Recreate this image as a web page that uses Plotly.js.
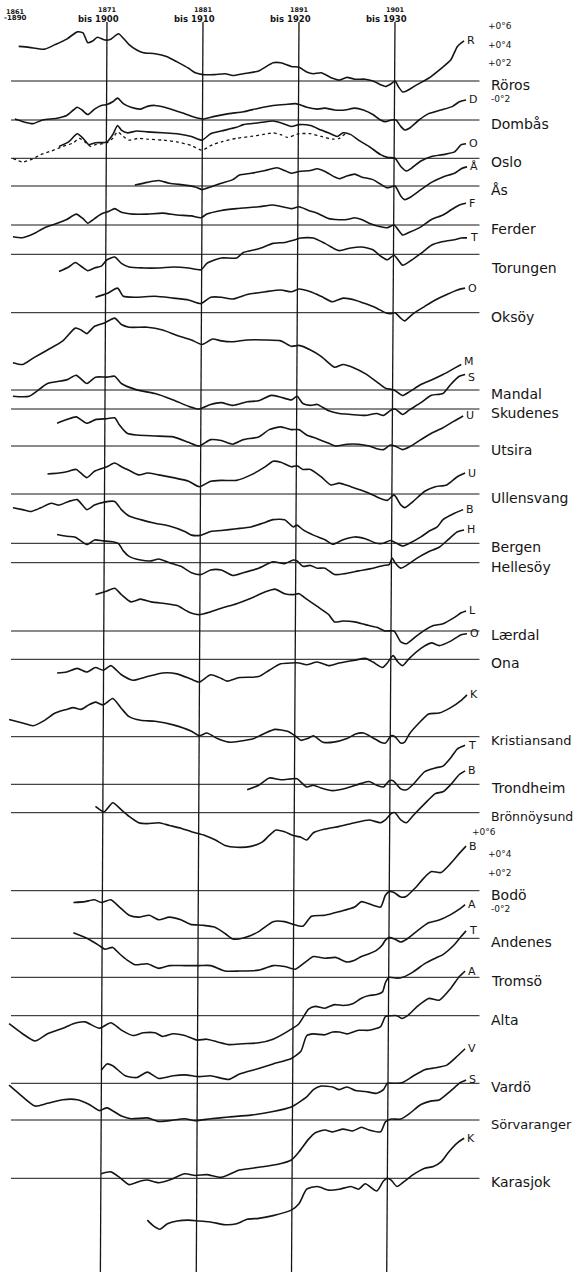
<!DOCTYPE html>
<html>
<head>
<meta charset="utf-8">
<script src="https://cdn.plot.ly/plotly-3.0.1.min.js"></script>
<style>
  html, body { margin: 0; padding: 0; background: #fff; }
  #chart { width: 579px; height: 1272px; }
</style>
</head>
<body>
<div id="chart"></div>
<script>
// 30-year running means of temperature, deviation (°C) from 1901–1930,
// plotted against the first year of each 30-year period.

const stationNames = ["Röros","Dombås","Oslo","Ås","Ferder","Torungen","Oksöy","Mandal","Skudenes","Utsira","Ullensvang","Bergen","Hellesöy","Lærdal","Ona","Kristiansand","Trondheim","Brönnöysund","Bodö","Andenes","Tromsö","Alta","Vardö","Sörvaranger","Karasjok"];
const curveLetters = ["R","D","O","Å","F","T","O","M","S","U","U","B","H","L","O","K","T","B","B","A","T","A","V","S","K"];

const periodStart = [1861, 1871, 1881, 1891, 1901];
const periodEnd   = [1890, 1900, 1910, 1920, 1930];
const scaleTicks  = [0.6, 0.4, 0.2, -0.2];

const yr_roros  = [1861.8,1862.9,1864.5,1865.6,1866.8,1867.9,1868.5,1869.0,1869.5,1870.0,1870.8,1871.4,1872.2,1872.7,1873.3,1874.1,1874.8,1876.0,1877.2,1878.3,1879.5,1880.2,1881.0,1882.2,1883.3,1884.1,1885.2,1886.8,1888.3,1889.1,1890.2,1891.0,1891.8,1892.5,1893.3,1894.5,1895.2,1896.0,1896.8,1897.9,1898.7,1899.5,1900.0,1900.6,1901.0,1901.4,1901.8,1902.2,1903.3,1904.5,1905.6,1906.8,1907.5,1908.2];
const dev_roros = [0.38,0.37,0.35,0.40,0.46,0.54,0.53,0.42,0.44,0.48,0.45,0.46,0.52,0.47,0.40,0.34,0.31,0.30,0.27,0.21,0.14,0.09,0.07,0.07,0.08,0.06,0.08,0.11,0.20,0.20,0.16,0.15,0.10,0.08,0.09,0.03,0.01,0.04,0.02,0.02,0.00,-0.04,-0.06,-0.03,0.00,-0.07,-0.12,-0.11,-0.04,0.03,0.12,0.23,0.38,0.44];

const yr_dombas  = [1861.4,1862.3,1863.3,1864.3,1865.8,1866.8,1867.5,1867.9,1868.4,1869.0,1869.7,1870.4,1871.0,1871.6,1872.1,1872.7,1873.5,1874.5,1875.2,1876.0,1877.0,1877.9,1879.1,1879.8,1881.0,1882.2,1883.7,1885.2,1886.8,1888.3,1889.5,1890.6,1891.0,1891.8,1892.9,1893.7,1894.7,1895.8,1896.8,1897.7,1898.7,1899.5,1900.0,1900.6,1901.1,1901.6,1902.0,1902.5,1903.5,1904.5,1905.8,1907.0,1907.7,1908.4];
const dev_dombas = [0.01,-0.02,-0.04,0.00,0.02,0.05,0.11,0.14,0.11,0.06,0.12,0.16,0.17,0.20,0.24,0.18,0.14,0.12,0.15,0.16,0.14,0.11,0.07,0.04,0.01,0.04,0.07,0.09,0.13,0.16,0.17,0.18,0.17,0.14,0.12,0.13,0.11,0.11,0.13,0.11,0.06,0.00,-0.02,0.00,0.00,-0.07,-0.11,-0.09,0.00,0.07,0.11,0.15,0.20,0.22];

const yr_oslo  = [1866.0,1867.0,1867.9,1868.5,1869.1,1869.8,1871.0,1871.6,1872.1,1872.5,1873.1,1874.1,1875.2,1876.8,1878.3,1879.8,1880.9,1881.8,1882.9,1884.5,1885.2,1886.8,1888.3,1889.1,1890.2,1891.0,1892.2,1893.3,1894.5,1895.0,1895.6,1896.4,1897.2,1898.3,1899.5,1900.2,1901.0,1901.6,1902.2,1902.7,1903.7,1904.8,1906.0,1907.2,1907.9,1908.4];
const dev_oslo = [0.13,0.18,0.27,0.22,0.15,0.17,0.18,0.26,0.36,0.31,0.28,0.30,0.29,0.28,0.27,0.24,0.20,0.27,0.30,0.34,0.37,0.39,0.41,0.39,0.35,0.37,0.36,0.31,0.26,0.24,0.28,0.26,0.20,0.13,0.04,0.01,0.00,-0.09,-0.14,-0.11,-0.03,0.02,0.04,0.07,0.15,0.16];

// second Oslo series (dotted)
const yr_osloDot  = [1861.2,1862.2,1863.2,1864.1,1865.2,1866.4,1867.5,1868.1,1868.7,1869.3,1869.8,1871.0,1871.6,1872.1,1872.7,1873.3,1874.3,1875.2,1876.8,1878.3,1879.8,1880.9,1882.0,1882.9,1884.5,1886.0,1887.2,1888.3,1889.1,1889.8,1891.0,1892.2,1893.3,1894.5,1895.2,1895.8];
const dev_osloDot = [0.00,-0.04,-0.01,0.04,0.08,0.13,0.17,0.22,0.18,0.13,0.15,0.17,0.22,0.29,0.24,0.20,0.22,0.21,0.20,0.18,0.14,0.09,0.15,0.18,0.22,0.24,0.26,0.28,0.26,0.23,0.27,0.27,0.24,0.21,0.22,0.27];

const yr_as  = [1873.9,1875.2,1876.4,1877.5,1879.1,1880.2,1880.9,1881.8,1882.9,1884.1,1884.8,1886.0,1887.5,1888.7,1889.5,1890.2,1891.0,1892.2,1892.9,1893.7,1894.7,1895.2,1896.0,1896.8,1897.5,1898.7,1899.5,1900.2,1901.0,1901.6,1902.0,1902.5,1903.7,1904.8,1906.0,1907.2,1907.9,1908.5];
const dev_as = [0.01,0.04,0.06,0.03,0.01,-0.01,-0.04,-0.01,0.03,0.07,0.12,0.14,0.17,0.20,0.17,0.14,0.16,0.17,0.19,0.16,0.10,0.08,0.11,0.13,0.10,0.07,0.02,-0.02,0.00,-0.11,-0.15,-0.13,-0.04,0.04,0.10,0.14,0.19,0.21];

const yr_ferder  = [1861.2,1862.2,1863.3,1864.5,1865.6,1866.8,1867.8,1868.5,1869.0,1869.7,1870.4,1871.2,1871.8,1872.5,1873.7,1875.2,1876.8,1878.3,1879.8,1880.8,1881.4,1882.9,1884.5,1886.8,1888.3,1890.2,1891.0,1892.0,1892.9,1894.1,1894.8,1896.0,1896.8,1897.5,1898.3,1899.5,1900.2,1900.9,1901.8,1902.5,1903.7,1904.8,1906.0,1906.9,1907.7,1908.4];
const dev_ferder = [-0.13,-0.14,-0.10,-0.03,0.01,0.06,0.12,0.07,0.02,0.07,0.12,0.15,0.18,0.14,0.12,0.12,0.13,0.11,0.10,0.08,0.12,0.16,0.18,0.20,0.22,0.18,0.20,0.16,0.13,0.07,0.06,0.06,0.08,0.06,0.02,-0.02,-0.03,0.00,-0.11,-0.08,-0.02,0.06,0.11,0.17,0.22,0.24];

const yr_torungen  = [1866.0,1867.0,1867.7,1868.4,1869.0,1869.7,1870.4,1871.0,1871.8,1872.5,1873.3,1874.8,1876.4,1877.9,1879.5,1880.8,1881.4,1882.9,1884.5,1885.2,1886.8,1888.3,1889.5,1890.6,1891.2,1892.5,1893.7,1894.7,1895.2,1896.4,1897.5,1898.7,1899.5,1900.2,1900.9,1901.8,1902.5,1903.7,1904.8,1906.0,1907.2,1907.9,1908.5];
const dev_torungen = [-0.19,-0.14,-0.09,-0.14,-0.18,-0.15,-0.13,-0.06,-0.03,-0.10,-0.14,-0.15,-0.15,-0.14,-0.15,-0.17,-0.10,-0.04,-0.04,0.02,0.06,0.12,0.13,0.16,0.18,0.18,0.12,0.06,0.04,0.07,0.08,0.05,-0.02,-0.06,-0.01,-0.12,-0.08,0.01,0.10,0.14,0.16,0.18,0.18];

const yr_oksoy  = [1869.8,1871.0,1872.1,1872.7,1874.1,1876.0,1877.9,1879.5,1880.8,1881.8,1882.9,1884.1,1885.6,1887.5,1889.1,1890.2,1891.0,1892.2,1893.3,1894.5,1895.6,1896.8,1897.9,1899.1,1900.0,1900.6,1901.0,1901.6,1902.0,1902.9,1904.1,1905.2,1906.4,1907.5,1908.3];
const dev_oksoy = [0.17,0.21,0.27,0.18,0.17,0.18,0.16,0.14,0.10,0.17,0.17,0.15,0.20,0.23,0.25,0.23,0.26,0.23,0.18,0.12,0.16,0.14,0.10,0.05,0.00,-0.01,0.00,-0.06,-0.09,-0.01,0.07,0.14,0.20,0.25,0.27];

const yr_mandal  = [1861.2,1862.2,1863.3,1864.8,1866.4,1867.7,1868.3,1868.9,1869.7,1870.8,1871.8,1872.5,1873.3,1875.2,1876.8,1878.3,1879.8,1880.9,1882.0,1882.9,1884.1,1885.6,1887.5,1889.1,1890.2,1891.0,1892.2,1893.3,1894.7,1895.6,1896.8,1897.9,1899.1,1900.0,1900.9,1901.8,1902.5,1903.7,1904.8,1906.0,1907.2,1907.9];
const dev_mandal = [0.30,0.28,0.35,0.44,0.54,0.68,0.66,0.62,0.70,0.74,0.79,0.72,0.69,0.69,0.66,0.60,0.55,0.50,0.56,0.54,0.53,0.55,0.55,0.54,0.48,0.49,0.44,0.37,0.25,0.28,0.24,0.18,0.09,0.02,0.00,-0.06,-0.02,0.06,0.11,0.17,0.24,0.28];

const yr_skudenes  = [1861.2,1862.9,1864.8,1866.8,1867.8,1868.9,1869.8,1871.0,1871.8,1872.5,1874.1,1876.0,1877.9,1879.5,1880.6,1881.8,1882.9,1884.1,1885.6,1886.8,1888.1,1889.1,1890.2,1890.8,1891.4,1892.2,1892.9,1894.1,1895.2,1896.4,1897.9,1899.1,1899.8,1900.6,1901.0,1901.8,1902.5,1903.7,1904.8,1906.0,1906.8,1907.7,1908.3];
const dev_skudenes = [0.14,0.14,0.28,0.32,0.37,0.28,0.35,0.35,0.36,0.28,0.21,0.17,0.10,0.03,0.00,0.05,0.07,0.04,0.08,0.09,0.15,0.13,0.10,0.14,0.06,0.04,0.05,-0.02,-0.05,-0.06,-0.07,-0.05,-0.07,-0.01,0.00,-0.06,-0.01,0.07,0.15,0.17,0.27,0.36,0.38];

const yr_utsira  = [1865.8,1866.8,1867.8,1868.9,1869.8,1871.0,1871.8,1872.3,1873.1,1874.1,1876.0,1877.9,1879.5,1880.6,1881.8,1882.9,1884.1,1885.2,1886.8,1887.9,1889.1,1890.2,1891.0,1891.8,1892.9,1894.1,1894.8,1896.0,1897.2,1898.3,1899.1,1899.8,1900.5,1901.0,1901.8,1902.5,1903.7,1904.8,1906.0,1907.1,1908.1];
const dev_utsira = [0.25,0.29,0.32,0.25,0.29,0.30,0.31,0.23,0.14,0.12,0.11,0.10,0.04,0.00,0.07,0.06,0.02,0.07,0.10,0.18,0.21,0.18,0.18,0.12,0.08,0.03,0.00,0.02,0.02,0.00,-0.03,-0.04,0.01,0.00,-0.04,-0.01,0.07,0.14,0.20,0.27,0.33];

const yr_ullensvang  = [1864.8,1866.0,1867.0,1867.8,1868.9,1869.7,1871.0,1871.8,1872.5,1873.3,1874.3,1875.2,1876.4,1877.9,1879.5,1880.6,1881.8,1882.9,1884.5,1886.0,1887.5,1888.3,1889.1,1890.2,1890.8,1891.4,1892.2,1893.3,1894.3,1895.2,1896.4,1897.5,1898.7,1899.5,1900.2,1900.9,1901.6,1902.0,1902.9,1904.1,1905.2,1906.4,1907.5,1908.3];
const dev_ullensvang = [0.22,0.23,0.25,0.27,0.18,0.25,0.30,0.34,0.30,0.26,0.21,0.23,0.21,0.18,0.14,0.08,0.14,0.15,0.15,0.21,0.30,0.36,0.35,0.30,0.31,0.27,0.27,0.19,0.10,0.12,0.08,0.04,-0.01,-0.05,-0.07,-0.01,-0.12,-0.15,-0.08,0.03,0.08,0.10,0.19,0.23];

const yr_bergen  = [1861.2,1862.2,1863.1,1864.1,1865.2,1866.0,1867.0,1867.9,1868.9,1869.7,1870.6,1871.8,1872.5,1873.3,1874.5,1876.0,1877.5,1879.1,1879.8,1880.8,1881.8,1882.9,1884.5,1886.0,1887.2,1888.3,1889.5,1890.4,1890.8,1891.4,1892.5,1893.7,1894.5,1895.6,1896.8,1897.9,1899.1,1899.8,1900.5,1901.0,1901.8,1902.5,1903.7,1904.5,1905.4,1906.0,1907.2,1908.1];
const dev_bergen = [0.39,0.37,0.35,0.39,0.44,0.42,0.46,0.48,0.37,0.42,0.45,0.46,0.37,0.30,0.26,0.22,0.19,0.13,0.09,0.09,0.13,0.14,0.16,0.18,0.22,0.26,0.26,0.18,0.20,0.15,0.09,0.04,-0.01,0.04,0.07,0.05,0.00,0.00,0.03,0.01,-0.03,0.00,0.07,0.13,0.18,0.26,0.33,0.37];

const yr_hellesoy  = [1865.8,1866.8,1867.7,1868.9,1869.7,1870.6,1871.6,1872.2,1872.7,1873.3,1874.5,1875.6,1876.4,1877.5,1878.7,1879.8,1880.8,1881.8,1882.9,1884.1,1885.2,1886.8,1888.3,1889.5,1890.4,1890.8,1891.4,1892.2,1892.9,1893.7,1894.7,1895.8,1897.2,1898.7,1899.8,1900.4,1900.7,1901.0,1901.6,1902.2,1903.3,1904.5,1905.6,1906.5,1907.5,1908.2];
const dev_hellesoy = [0.31,0.29,0.28,0.20,0.25,0.24,0.23,0.21,0.13,0.07,0.03,0.02,0.04,0.00,-0.04,-0.11,-0.13,-0.08,-0.08,-0.14,-0.11,-0.06,0.01,-0.01,0.03,0.02,-0.04,-0.03,-0.06,-0.06,-0.13,-0.12,-0.09,-0.06,-0.03,-0.02,0.05,0.00,-0.06,-0.03,0.05,0.12,0.17,0.25,0.34,0.36];

const yr_laerdal  = [1869.8,1871.0,1871.8,1872.5,1873.5,1874.5,1875.6,1877.2,1878.3,1879.5,1880.6,1881.8,1882.9,1884.5,1886.0,1887.5,1888.5,1889.5,1890.4,1891.0,1891.8,1892.9,1894.1,1894.7,1895.6,1896.8,1897.9,1899.1,1900.0,1900.9,1901.6,1902.2,1903.3,1904.1,1905.0,1906.0,1907.2,1907.9,1908.4];
const dev_laerdal = [0.40,0.44,0.47,0.40,0.32,0.35,0.32,0.30,0.28,0.21,0.18,0.21,0.25,0.30,0.36,0.43,0.46,0.41,0.40,0.41,0.35,0.27,0.18,0.10,0.11,0.10,0.07,0.04,0.00,0.00,-0.12,-0.14,-0.05,0.01,0.06,0.08,0.15,0.20,0.22];

const yr_ona  = [1865.8,1866.8,1867.9,1868.9,1869.8,1870.6,1871.4,1872.5,1873.7,1875.2,1876.8,1878.3,1879.8,1880.6,1881.8,1882.9,1883.5,1884.8,1886.8,1887.9,1889.1,1890.2,1891.0,1891.8,1892.9,1894.1,1895.2,1896.8,1897.9,1898.7,1899.7,1900.2,1900.8,1901.3,1901.8,1902.5,1903.7,1904.8,1905.6,1906.8,1907.9,1908.5];
const dev_ona = [-0.15,-0.14,-0.10,-0.14,-0.09,-0.12,-0.07,-0.17,-0.23,-0.19,-0.15,-0.16,-0.22,-0.25,-0.17,-0.21,-0.24,-0.20,-0.19,-0.12,-0.05,-0.04,-0.04,-0.06,-0.03,-0.07,-0.04,-0.01,0.01,-0.03,-0.09,-0.04,0.04,-0.03,-0.07,0.01,0.12,0.18,0.15,0.20,0.27,0.28];

const yr_kristiansand  = [1860.8,1862.2,1863.3,1864.5,1865.6,1866.8,1867.5,1868.3,1869.1,1869.8,1870.6,1871.6,1872.5,1873.3,1874.5,1876.0,1877.9,1879.8,1880.6,1881.4,1882.5,1883.7,1884.8,1886.3,1887.5,1888.5,1889.8,1890.6,1891.2,1891.9,1892.5,1893.5,1894.6,1896.0,1896.9,1897.7,1898.5,1899.5,1900.0,1900.6,1901.0,1901.6,1902.0,1902.5,1903.5,1904.5,1905.6,1906.8,1907.9,1908.5];
const dev_kristiansand = [0.19,0.15,0.12,0.18,0.26,0.30,0.32,0.30,0.35,0.38,0.35,0.42,0.31,0.22,0.18,0.17,0.13,0.06,0.01,0.04,-0.02,-0.06,-0.05,-0.02,0.04,0.08,0.06,0.01,-0.04,-0.02,0.01,-0.06,-0.06,-0.02,0.03,0.04,0.00,-0.06,-0.07,0.01,0.00,-0.07,-0.06,0.03,0.15,0.25,0.26,0.32,0.40,0.46];

const yr_trondheim  = [1885.6,1886.8,1887.9,1889.1,1890.2,1890.8,1891.8,1892.5,1893.3,1894.5,1896.0,1897.5,1898.3,1899.1,1899.8,1900.4,1900.8,1901.6,1902.2,1902.9,1904.1,1905.2,1906.0,1906.8,1907.5,1908.3];
const dev_trondheim = [-0.06,-0.01,0.07,0.05,0.06,0.06,-0.03,-0.01,-0.04,-0.07,-0.04,0.01,0.03,-0.01,-0.03,0.04,0.04,-0.05,-0.06,0.00,0.14,0.18,0.20,0.29,0.39,0.43];

const yr_bronnoysund  = [1869.8,1870.7,1871.6,1872.5,1873.3,1874.3,1875.2,1876.4,1877.5,1878.7,1879.8,1881.2,1882.3,1883.3,1884.5,1886.0,1887.2,1887.9,1888.6,1889.5,1890.4,1891.2,1891.8,1892.5,1893.7,1895.2,1896.8,1898.3,1899.5,1900.0,1900.6,1901.0,1901.6,1902.2,1902.9,1904.1,1905.2,1906.0,1906.9,1907.7,1908.3];
const dev_bronnoysund = [0.07,0.01,0.11,0.03,-0.04,-0.11,-0.12,-0.11,-0.14,-0.17,-0.21,-0.25,-0.30,-0.36,-0.38,-0.37,-0.32,-0.25,-0.19,-0.21,-0.25,-0.27,-0.30,-0.22,-0.18,-0.15,-0.11,-0.08,-0.11,-0.08,-0.01,0.00,-0.08,-0.11,-0.03,0.10,0.21,0.23,0.32,0.42,0.46];

const yr_bodo  = [1867.5,1868.7,1869.7,1870.4,1871.4,1872.3,1873.3,1874.3,1875.4,1876.4,1877.5,1878.7,1879.7,1881.0,1882.2,1883.3,1884.1,1885.2,1886.8,1888.3,1889.5,1890.4,1891.4,1892.3,1893.7,1895.2,1896.8,1897.5,1898.7,1899.5,1900.0,1900.4,1900.9,1901.6,1902.2,1903.1,1904.1,1904.8,1905.8,1906.8,1907.7,1908.4];
const dev_bodo = [-0.13,-0.12,-0.10,-0.13,-0.10,-0.18,-0.27,-0.29,-0.27,-0.32,-0.29,-0.32,-0.37,-0.38,-0.40,-0.47,-0.53,-0.52,-0.45,-0.34,-0.34,-0.37,-0.39,-0.28,-0.27,-0.23,-0.18,-0.12,-0.16,-0.18,-0.05,-0.01,-0.02,-0.07,-0.06,0.03,0.15,0.21,0.20,0.30,0.41,0.49];

const yr_andenes  = [1867.5,1869.1,1870.2,1870.8,1871.6,1872.3,1873.1,1873.9,1875.2,1876.4,1877.5,1879.1,1880.6,1881.8,1883.3,1884.8,1886.8,1888.3,1889.5,1890.6,1891.8,1892.5,1893.7,1894.8,1896.0,1896.8,1897.5,1898.3,1899.1,1899.7,1900.0,1900.4,1901.0,1901.6,1902.2,1903.3,1904.5,1905.6,1906.8,1907.7,1908.3];
const dev_andenes = [0.06,-0.01,-0.08,-0.12,-0.10,-0.17,-0.24,-0.29,-0.28,-0.33,-0.30,-0.30,-0.30,-0.30,-0.36,-0.36,-0.35,-0.30,-0.31,-0.34,-0.25,-0.20,-0.22,-0.21,-0.26,-0.24,-0.20,-0.17,-0.13,-0.07,-0.02,0.01,-0.01,-0.04,-0.01,0.08,0.17,0.20,0.26,0.32,0.37];

const yr_tromso  = [1860.8,1862.2,1863.5,1864.8,1866.4,1867.5,1868.7,1870.2,1871.4,1872.5,1873.7,1874.8,1876.0,1876.8,1877.9,1879.1,1880.4,1881.4,1882.5,1883.7,1885.2,1886.8,1888.3,1890.2,1891.0,1892.0,1892.7,1893.7,1894.7,1895.6,1896.6,1897.5,1898.3,1899.1,1899.7,1900.0,1900.4,1901.2,1901.8,1902.9,1904.1,1905.2,1906.0,1907.2,1907.9,1908.4];
const dev_tromso = [-0.51,-0.62,-0.70,-0.62,-0.56,-0.51,-0.49,-0.56,-0.50,-0.58,-0.64,-0.61,-0.61,-0.65,-0.62,-0.64,-0.69,-0.68,-0.71,-0.74,-0.73,-0.72,-0.68,-0.57,-0.51,-0.35,-0.32,-0.34,-0.30,-0.31,-0.29,-0.23,-0.20,-0.19,-0.16,-0.06,0.00,-0.01,0.00,0.06,0.15,0.21,0.25,0.36,0.45,0.51];

const yr_alta  = [1870.4,1871.0,1871.6,1872.9,1874.1,1875.2,1876.4,1877.9,1879.1,1880.6,1881.8,1883.7,1884.8,1886.8,1888.3,1890.2,1891.2,1891.8,1892.5,1893.7,1894.5,1895.2,1896.0,1897.2,1898.3,1899.5,1900.0,1900.6,1901.2,1901.7,1902.3,1903.3,1904.5,1905.6,1906.8,1907.7,1908.3];
const dev_alta = [-0.60,-0.53,-0.55,-0.66,-0.68,-0.62,-0.69,-0.66,-0.65,-0.67,-0.66,-0.70,-0.64,-0.58,-0.53,-0.47,-0.39,-0.22,-0.20,-0.21,-0.18,-0.18,-0.20,-0.16,-0.16,-0.12,-0.01,0.00,0.00,-0.03,0.00,0.10,0.19,0.17,0.30,0.43,0.49];

const yr_vardo  = [1860.8,1861.8,1863.5,1864.8,1866.4,1867.9,1869.1,1870.2,1871.0,1872.5,1873.5,1875.2,1876.4,1877.5,1879.1,1880.2,1881.8,1883.7,1886.0,1888.3,1890.2,1891.8,1892.5,1893.3,1894.5,1895.2,1896.0,1896.9,1897.9,1899.1,1899.8,1900.2,1901.0,1901.8,1902.9,1904.1,1905.2,1906.4,1907.5,1908.3];
const dev_vardo = [-0.02,-0.11,-0.25,-0.22,-0.18,-0.18,-0.23,-0.30,-0.27,-0.36,-0.39,-0.38,-0.42,-0.41,-0.39,-0.41,-0.39,-0.37,-0.35,-0.31,-0.26,-0.15,-0.07,-0.03,-0.04,-0.07,-0.04,-0.08,-0.09,-0.11,-0.07,0.00,0.00,0.01,0.08,0.15,0.17,0.20,0.30,0.38];

const yr_sorvaranger  = [1870.4,1871.4,1872.3,1873.3,1874.5,1875.2,1876.4,1877.5,1879.1,1880.2,1881.4,1882.9,1884.8,1886.8,1888.7,1890.2,1891.0,1892.0,1892.7,1893.7,1894.5,1895.6,1896.6,1897.5,1898.3,1899.5,1900.0,1900.6,1901.6,1902.5,1903.7,1904.8,1905.6,1906.8,1907.8,1908.4];
const dev_sorvaranger = [-0.59,-0.57,-0.63,-0.71,-0.67,-0.66,-0.69,-0.66,-0.59,-0.61,-0.60,-0.63,-0.55,-0.52,-0.49,-0.44,-0.35,-0.21,-0.14,-0.11,-0.13,-0.10,-0.12,-0.08,-0.11,-0.13,-0.02,0.01,0.01,0.07,0.17,0.21,0.22,0.32,0.41,0.44];

const yr_karasjok  = [1875.2,1875.8,1876.5,1877.3,1878.3,1879.5,1880.6,1881.8,1883.3,1884.5,1885.6,1886.8,1888.3,1890.2,1891.0,1891.8,1892.9,1894.1,1895.2,1896.4,1897.2,1897.9,1899.1,1899.8,1900.2,1900.6,1901.2,1901.9,1902.9,1904.1,1905.0,1905.8,1906.6,1907.5,1908.2];
const dev_karasjok = [-0.46,-0.52,-0.56,-0.50,-0.47,-0.46,-0.47,-0.48,-0.51,-0.50,-0.45,-0.44,-0.41,-0.35,-0.28,-0.12,-0.09,-0.13,-0.12,-0.09,-0.12,-0.06,-0.14,-0.03,0.00,-0.02,-0.09,-0.04,0.04,0.11,0.13,0.18,0.29,0.39,0.44];

const stationYears = [yr_roros, yr_dombas, yr_oslo, yr_as, yr_ferder, yr_torungen, yr_oksoy, yr_mandal, yr_skudenes, yr_utsira, yr_ullensvang, yr_bergen, yr_hellesoy, yr_laerdal, yr_ona, yr_kristiansand, yr_trondheim, yr_bronnoysund, yr_bodo, yr_andenes, yr_tromso, yr_alta, yr_vardo, yr_sorvaranger, yr_karasjok];
const stationDevs  = [dev_roros, dev_dombas, dev_oslo, dev_as, dev_ferder, dev_torungen, dev_oksoy, dev_mandal, dev_skudenes, dev_utsira, dev_ullensvang, dev_bergen, dev_hellesoy, dev_laerdal, dev_ona, dev_kristiansand, dev_trondheim, dev_bronnoysund, dev_bodo, dev_andenes, dev_tromso, dev_alta, dev_vardo, dev_sorvaranger, dev_karasjok];

// ---- page geometry (layout only) ----
const W = 579, H = 1272;
const pxPerYear = 9.6;          // horizontal scale
const pxPerDeg = 91;            // vertical scale, pixels per °C
const xLeftYear = 1871 - 107 / pxPerYear;
const zeroLinePx = [81,120,158.3,186,225,254.3,312.7,390,409,446,494,543.3,562.7,631,659.3,736.7,784.3,812.7,890.7,938.3,977.3,1015.7,1083.3,1120,1178.3];
const nameShiftPx = stationNames.map(n => n === "Torungen" ? -14 : -4);
const nameSize = stationNames.map(n => n === "Brönnöysund" ? 12.5 : (n === "Kristiansand" || n === "Sörvaranger" ? 13 : 14));
const letterShiftPx = curveLetters.map((c, i) => i === 7 ? 3 : (i === 8 ? -3 : 0));
const lineSlantYears = [-0.69, -0.70, -0.78, -0.86];   // hand-ruled period lines lean slightly left
const scaleRows = ["Röros", "Bodö"];

const ink = "#151515";
const font = "DejaVu Sans, Verdana, sans-serif";

const axisId = i => (i === 0 ? "y" : "y" + (i + 1));
const axisKey = i => (i === 0 ? "yaxis" : "yaxis" + (i + 1));

const traces = [];
const layout = {
  width: W, height: H,
  margin: {l: 0, r: 0, t: 0, b: 0},
  paper_bgcolor: "#fff", plot_bgcolor: "#fff",
  showlegend: false,
  xaxis: {range: [xLeftYear, xLeftYear + W / pxPerYear], visible: false, fixedrange: true},
  shapes: [], annotations: []
};

stationNames.forEach((name, i) => {
  const b = zeroLinePx[i];
  const ax = {range: [-(H - b) / pxPerDeg, b / pxPerDeg], visible: false, fixedrange: true, domain: [0, 1]};
  if (i > 0) ax.overlaying = "y";
  layout[axisKey(i)] = ax;

  const xs = stationYears[i], ys = stationDevs[i];
  traces.push({
    x: xs, y: ys, xaxis: "x", yaxis: axisId(i), mode: "lines", hoverinfo: "skip",
    line: {color: ink, width: 1.6, shape: "spline", smoothing: 0.6}
  });
  if (name === "Oslo") {
    traces.push({
      x: yr_osloDot, y: dev_osloDot, xaxis: "x", yaxis: axisId(i), mode: "lines", hoverinfo: "skip",
      line: {color: ink, width: 1.3, dash: "dot", shape: "spline", smoothing: 0.6}
    });
  }

  // zero line of the station
  layout.shapes.push({type: "line", xref: "x", yref: axisId(i), x0: 1861, x1: 1909.8, y0: 0, y1: 0,
    line: {color: ink, width: 1}});

  // station name
  layout.annotations.push({xref: "paper", yref: axisId(i), x: 489 / W, y: 0, yshift: nameShiftPx[i],
    text: name, showarrow: false, xanchor: "left", yanchor: "middle",
    font: {family: font, size: nameSize[i], color: ink}});

  // letter at the end of the curve
  const k = xs.length - 1;
  layout.annotations.push({xref: "x", yref: axisId(i), x: xs[k], y: ys[k], xshift: 1, yshift: letterShiftPx[i],
    text: curveLetters[i], showarrow: false, xanchor: "left", yanchor: "middle",
    font: {family: font, size: 11, color: ink}});
});

// period lines
periodStart.slice(1).forEach((yr, j) => {
  layout.shapes.push({type: "line", xref: "x", yref: "paper", x0: yr, y0: 1 - 22 / H, x1: yr + lineSlantYears[j], y1: 0,
    line: {color: ink, width: 1.3}});
});

// period headings
periodStart.forEach((yr, j) => {
  const first = j === 0;
  layout.annotations.push({xref: "x", yref: "paper", x: yr, y: 1 - (first ? 12 : 10) / H,
    text: String(yr), showarrow: false, xanchor: "center", yanchor: "middle", xshift: first ? 4 : 0,
    font: {family: font, size: 6.5, color: ink, weight: 700}});
  layout.annotations.push({xref: "x", yref: "paper", x: yr, y: 1 - (first ? 18 : 19) / H,
    text: (first ? "-" : "bis ") + periodEnd[j], showarrow: false, xanchor: "center", yanchor: "middle",
    xshift: first ? 4 : -9,
    font: {family: font, size: first ? 7 : 8.5, color: ink, weight: 700}});
});

// vertical scale marks beside two stations
scaleRows.forEach(nm => {
  const i = stationNames.indexOf(nm);
  scaleTicks.forEach(v => {
    const txt = (v > 0 ? "+" : "-") + "0°" + Math.round(Math.abs(v) * 10);
    const lifted = nm === "Bodö" && v === 0.6;
    layout.annotations.push({xref: "paper", yref: axisId(i), x: (lifted ? 470 : (v < 0 ? 489 : 486)) / W, y: v,
      yshift: lifted ? 4 : 0,
      text: txt, showarrow: false, xanchor: "left", yanchor: "middle",
      font: {family: font, size: 9, color: ink}});
  });
});

Plotly.newPlot("chart", traces, layout, {staticPlot: true, displayModeBar: false});
</script>
</body>
</html>
